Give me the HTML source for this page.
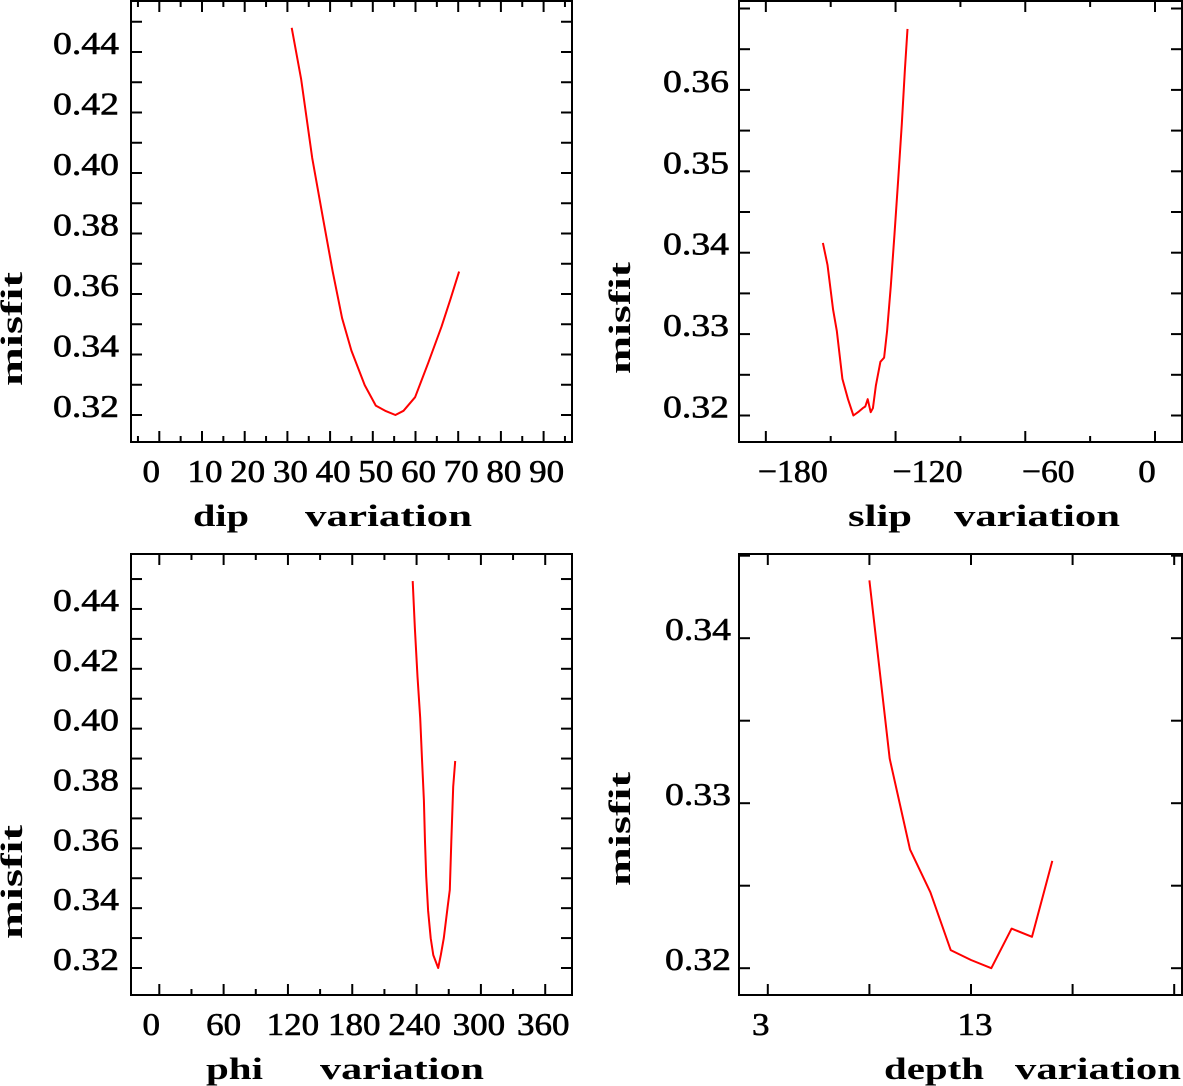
<!DOCTYPE html>
<html><head><meta charset="utf-8"><style>
html,body{margin:0;padding:0;background:#fff;}
svg{display:block;}
text{font-family:"Liberation Serif",serif;fill:#000;}
.tk{font-size:32px;stroke:#000;stroke-width:0.6px;}
.ttl{font-size:31px;font-weight:bold;}
</style></head><body>
<svg id="fig" width="1183" height="1086" viewBox="0 0 1183 1086" xmlns="http://www.w3.org/2000/svg"></svg>
<script>
// ---- Panel 1: dip
const dipX = [31.0,33.2,35.8,38.4,40.6,42.8,45.0,48.1,50.7,52.9,55.3,57.2,59.9,63.0,66.1,68.2,70.2];
const dipY = [0.448,0.4311,0.405,0.3845,0.3674,0.352,0.3413,0.3299,0.3231,0.3214,0.320,0.3214,0.3259,0.3373,0.3492,0.3583,0.3674];
const dipXTicks = [0,10,20,30,40,50,60,70,80,90];
const dipXLabels = ["0","10","20","30","40","50","60","70","80","90"];
const dipYTicks = [0.32,0.34,0.36,0.38,0.40,0.42,0.44];
const dipYLabels = ["0.32","0.34","0.36","0.38","0.40","0.42","0.44"];
// ---- Panel 2: slip
const slipX = [-153.6,-151.5,-148.9,-147.2,-144.6,-142.0,-139.5,-136.9,-135.2,-134.0,-132.9,-131.5,-130.5,-129.1,-127.0,-125.3,-123.9,-122.2,-120.5,-118.8,-117.1,-115.7,-114.5];
const slipY = [0.3412,0.3385,0.3330,0.3304,0.3245,0.3220,0.3200,0.3205,0.3209,0.3211,0.3220,0.3204,0.3209,0.3237,0.3266,0.3271,0.3304,0.3359,0.3423,0.3490,0.3558,0.3625,0.3675];
const slipXTicks = [-180,-120,-60,0];
const slipXLabels = ["\u2212180","\u2212120","\u221260","0"];
const slipYTicks = [0.32,0.33,0.34,0.35,0.36];
const slipYLabels = ["0.32","0.33","0.34","0.35","0.36"];
// ---- Panel 3: phi
const phiX = [236.4,238.4,240.9,243.4,245.1,246.8,247.9,249.0,250.7,253.2,255.6,260.2,262.6,265.4,268.9,271.0,272.4,274.2,276.0];
const phiY = [0.4493,0.4334,0.4174,0.4036,0.3898,0.3760,0.3622,0.3507,0.3392,0.3300,0.3243,0.3200,0.3243,0.3300,0.3403,0.3461,0.3622,0.3806,0.3892];
const phiXTicks = [0,60,120,180,240,300,360];
const phiXLabels = ["0","60","120","180","240","300","360"];
const phiYTicks = [0.32,0.34,0.36,0.38,0.40,0.42,0.44];
const phiYLabels = ["0.32","0.34","0.36","0.38","0.40","0.42","0.44"];
// ---- Panel 4: depth
const depthX = [8,9,10,11,12,13,14,15,16,17];
const depthY = [0.3435,0.3327,0.3272,0.3246,0.3211,0.3205,0.3200,0.3224,0.3219,0.3265];
const depthXTicks = [3,13];
const depthXLabels = ["3","13"];
const depthYTicks = [0.32,0.33,0.34];
const depthYLabels = ["0.32","0.33","0.34"];

const NS="http://www.w3.org/2000/svg";
const svg=document.getElementById('fig');
function mk(tag,attrs,parent){const e=document.createElementNS(NS,tag);for(const k in attrs)e.setAttribute(k,attrs[k]);(parent||svg).appendChild(e);return e;}

function panel(o){
  const g=mk('g',{});
  
  
  const sx=v=>o.x0+(v-o.xv0)*o.kx;
  const sy=v=>o.y0-(v-o.yv0)*o.ky;
  const L=o.L,R=o.R,T=o.T,B=o.B;
  const fr=mk('rect',{x:L,y:T,width:R-L,height:B-T,fill:'none',stroke:'#000','stroke-width':2},g);
  
  
  for(let v=o.xmin;v<=o.xmax+1e-9;v+=o.xminor){
    const px=sx(v); if(px<=L+1||px>=R-1) continue;
    const isMaj=Math.abs((v-o.xv0)/o.xmajor-Math.round((v-o.xv0)/o.xmajor))<1e-6;
    const len=isMaj?11:6;
    mk('line',{x1:px,y1:B,x2:px,y2:B-len,stroke:'#000','stroke-width':2},g);
    mk('line',{x1:px,y1:T,x2:px,y2:T+len,stroke:'#000','stroke-width':2},g);
  }
  for(let v=o.ymin;v<=o.ymax+1e-9;v+=o.yminor){
    const py=sy(v); if(py<=T+1||py>=B-1) continue;
    mk('line',{x1:L,y1:py,x2:L+11,y2:py,stroke:'#000','stroke-width':2},g);
    mk('line',{x1:R,y1:py,x2:R-11,y2:py,stroke:'#000','stroke-width':2},g);
  }
  o.xt.forEach((v,i)=>{
    const t=mk('text',{class:'tk',x:sx(v)+o.xdx[i],y:o.xlabY,'text-anchor':'middle',textLength:o.xl[i].length*17.5,lengthAdjust:'spacingAndGlyphs'},g);
    t.textContent=o.xl[i];
    
    
  });
  o.yt.forEach((v,i)=>{
    const t=mk('text',{class:'tk',x:o.ylabX,y:sy(v)+2,'text-anchor':'end',textLength:66,lengthAdjust:'spacingAndGlyphs'},g);
    t.textContent=o.yl[i];
    
    
  });
  const pts=o.dx.map((v,i)=>sx(v).toFixed(1)+','+sy(o.dy[i]).toFixed(1)).join(' ');
  const pl=mk('polyline',{points:pts,fill:'none',stroke:'#ff0000','stroke-width':2,'stroke-linejoin':'round'},g);
  
  
  o.words.forEach(w=>{
    const t=mk('text',{class:'ttl',x:w[1],y:o.titleY,textLength:w[2]-w[1],lengthAdjust:'spacingAndGlyphs'},g);
    t.textContent=w[0];
    
    
  });
  const yt=mk('text',{class:'ttl',x:0,y:0,textLength:o.ytl[1]-o.ytl[0],lengthAdjust:'spacingAndGlyphs',transform:'translate('+o.ytx+','+o.ytl[1]+') rotate(-90)'},g);
  yt.textContent='misfit';
  
  
}

panel({name:'dip',L:131,R:572,T:1,B:442,x0:159.3,xv0:0,kx:4.27,y0:415,yv0:0.32,ky:3025,
  xmin:-10,xmax:100,xminor:5,xmajor:10,ymin:0.30,ymax:0.46,yminor:0.01,
  xt:dipXTicks,xl:dipXLabels,xdx:[-8,3,3,3,3,3,3,3,3,3],yt:dipYTicks,yl:dipYLabels,
  dx:dipX,dy:dipY,xlabY:482,ylabX:119,titleY:526,
  words:[['dip',193,249],['variation',305,472]],ytx:22,ytl:[272,386]});
panel({name:'slip',L:739,R:1182,T:1,B:442,x0:1155,xv0:0,kx:2.162,y0:415.5,yv0:0.32,ky:8140,
  xmin:-210,xmax:30,xminor:30,xmajor:60,ymin:0.31,ymax:0.375,yminor:0.005,
  xt:slipXTicks,xl:slipXLabels,xdx:[27,32,23,-8],yt:slipYTicks,yl:slipYLabels,
  dx:slipX,dy:slipY,xlabY:482,ylabX:729,titleY:526,
  words:[['slip',848,912],['variation',954,1120]],ytx:630,ytl:[262,374]});
panel({name:'phi',L:131,R:572,T:554,B:995,x0:159.3,xv0:0,kx:1.072,y0:968,yv0:0.32,ky:2992,
  xmin:-30,xmax:420,xminor:30,xmajor:60,ymin:0.30,ymax:0.46,yminor:0.01,
  xt:phiXTicks,xl:phiXLabels,xdx:[-8,0,5,2,-2,-2,-2],yt:phiYTicks,yl:phiYLabels,
  dx:phiX,dy:phiY,xlabY:1035,ylabX:119,titleY:1079,
  words:[['phi',206,263],['variation',320,484]],ytx:22,ytl:[825,939]});
panel({name:'depth',L:739,R:1182,T:554,B:995,x0:767.8,xv0:3,kx:20.32,y0:968.2,yv0:0.32,ky:16500,
  xmin:-2,xmax:28,xminor:5,xmajor:5,ymin:0.315,ymax:0.35,yminor:0.005,
  xt:depthXTicks,xl:depthXLabels,xdx:[-7,4],yt:depthYTicks,yl:depthYLabels,
  dx:depthX,dy:depthY,xlabY:1035,ylabX:731,titleY:1079,
  words:[['depth',884,984],['variation',1015,1181]],ytx:630,ytl:[772,886]});
</script>
</body></html>
